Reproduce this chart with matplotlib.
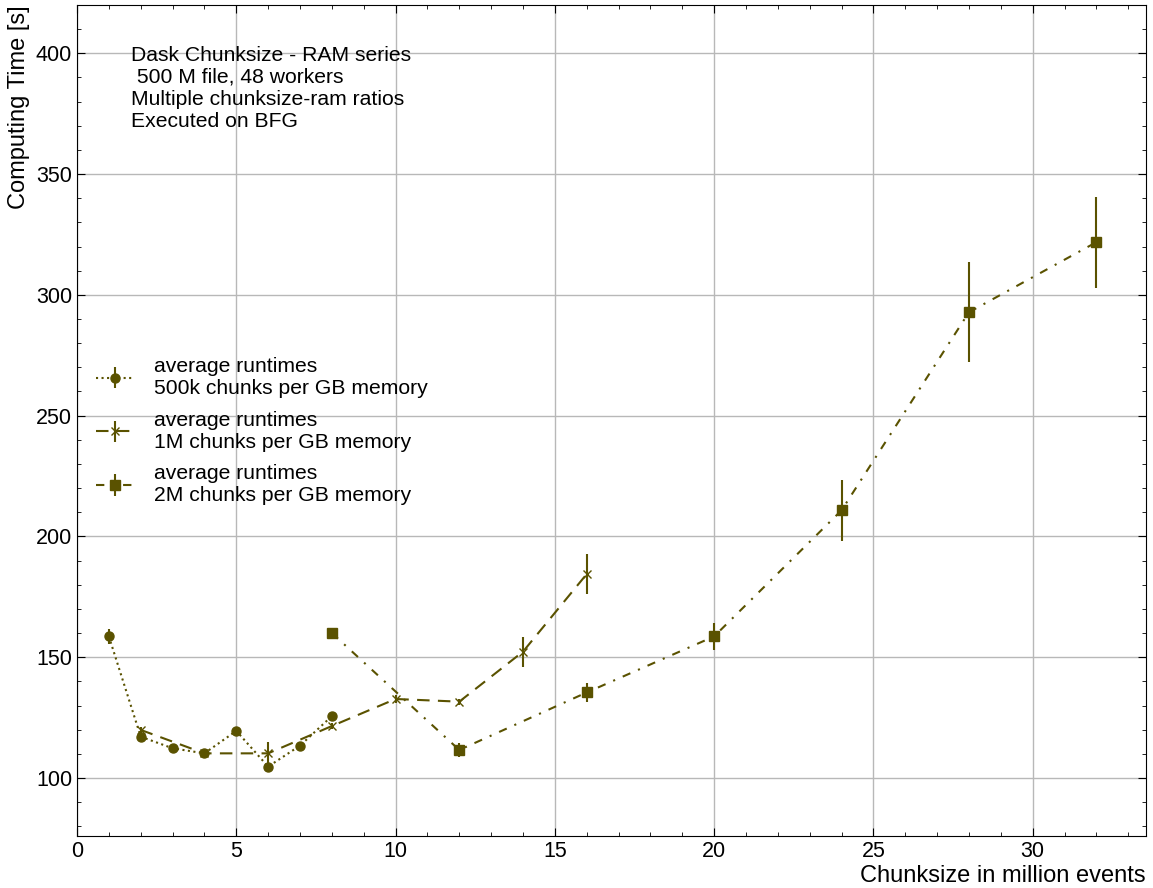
import numpy as np
import matplotlib.pyplot as plt
from matplotlib.ticker import MultipleLocator

plt.rcParams['font.family'] = ['Liberation Sans', 'DejaVu Sans']
plt.rcParams['font.size'] = 15

# --- data ---
x_500k = [1, 2, 3, 4, 5, 6, 7, 8]
y_500k = [158.6, 117.1, 112.3, 110.2, 119.5, 104.7, 113.4, 125.6]
e_500k = [3.0, 1.2, 1.0, 1.0, 1.2, 1.2, 1.2, 1.2]

x_1m = [2, 4, 6, 8, 10, 12, 14, 16]
y_1m = [119.9, 110.2, 110.2, 121.5, 132.7, 131.6, 152.3, 184.4]
e_1m = [1.2, 1.0, 4.5, 1.2, 1.5, 1.2, 6.2, 8.3]

x_2m = [8, 12, 16, 20, 24, 28, 32]
y_2m = [160.0, 111.6, 135.4, 158.6, 210.8, 292.8, 321.8]
e_2m = [1.5, 3.0, 4.0, 5.5, 12.6, 20.6, 18.9]

labels = ['average runtimes\n500k chunks per GB memory',
          'average runtimes\n1M chunks per GB memory',
          'average runtimes\n2M chunks per GB memory']
info = 'Dask Chunksize - RAM series\n 500 M file, 48 workers\nMultiple chunksize-ram ratios\nExecuted on BFG'

color = '#5a5200'

fig = plt.figure(figsize=(11.53, 8.88), dpi=100)
ax = fig.add_axes([0.0668, 0.0586, 0.9269, 0.9358])

ax.errorbar(x_500k, y_500k, yerr=e_500k, color=color, linestyle=':', marker='o',
            markersize=6.5, elinewidth=1.5, linewidth=1.5, label=labels[0])
ax.errorbar(x_1m, y_1m, yerr=e_1m, color=color, linestyle=(0, (6, 4)), marker='x',
            markersize=6, elinewidth=1.5, linewidth=1.5, label=labels[1])
ax.errorbar(x_2m, y_2m, yerr=e_2m, color=color, linestyle=(0, (4, 4, 1, 4)), marker='s',
            markersize=6.5, elinewidth=1.5, linewidth=1.5, label=labels[2])

ax.set_xlim(0, 33.55)
ax.set_ylim(76, 420)
ax.xaxis.set_major_locator(MultipleLocator(5))
ax.xaxis.set_minor_locator(MultipleLocator(1))
ax.yaxis.set_major_locator(MultipleLocator(50))
ax.yaxis.set_minor_locator(MultipleLocator(10))
ax.tick_params(which='both', direction='in', top=True, right=True, labelsize=15.5)
ax.tick_params(which='major', length=6)
ax.tick_params(which='minor', length=3)
ax.grid(True, which='major', color='#b8b8b8', linewidth=1)

ax.set_xlabel('Chunksize in million events', fontsize=17, loc='right', labelpad=2)
ax.set_ylabel('Computing Time [s]', fontsize=17, loc='top', labelpad=4)

ax.text(0.0505, 0.951, info, transform=ax.transAxes, va='top', ha='left',
        fontsize=15.2, linespacing=1.2)

ax.legend(loc='center left', bbox_to_anchor=(0.0, 0.487), frameon=False,
          fontsize=15.2, handlelength=1.8, handletextpad=0.95, labelspacing=0.6)

fig.savefig('out.png', dpi=100)
